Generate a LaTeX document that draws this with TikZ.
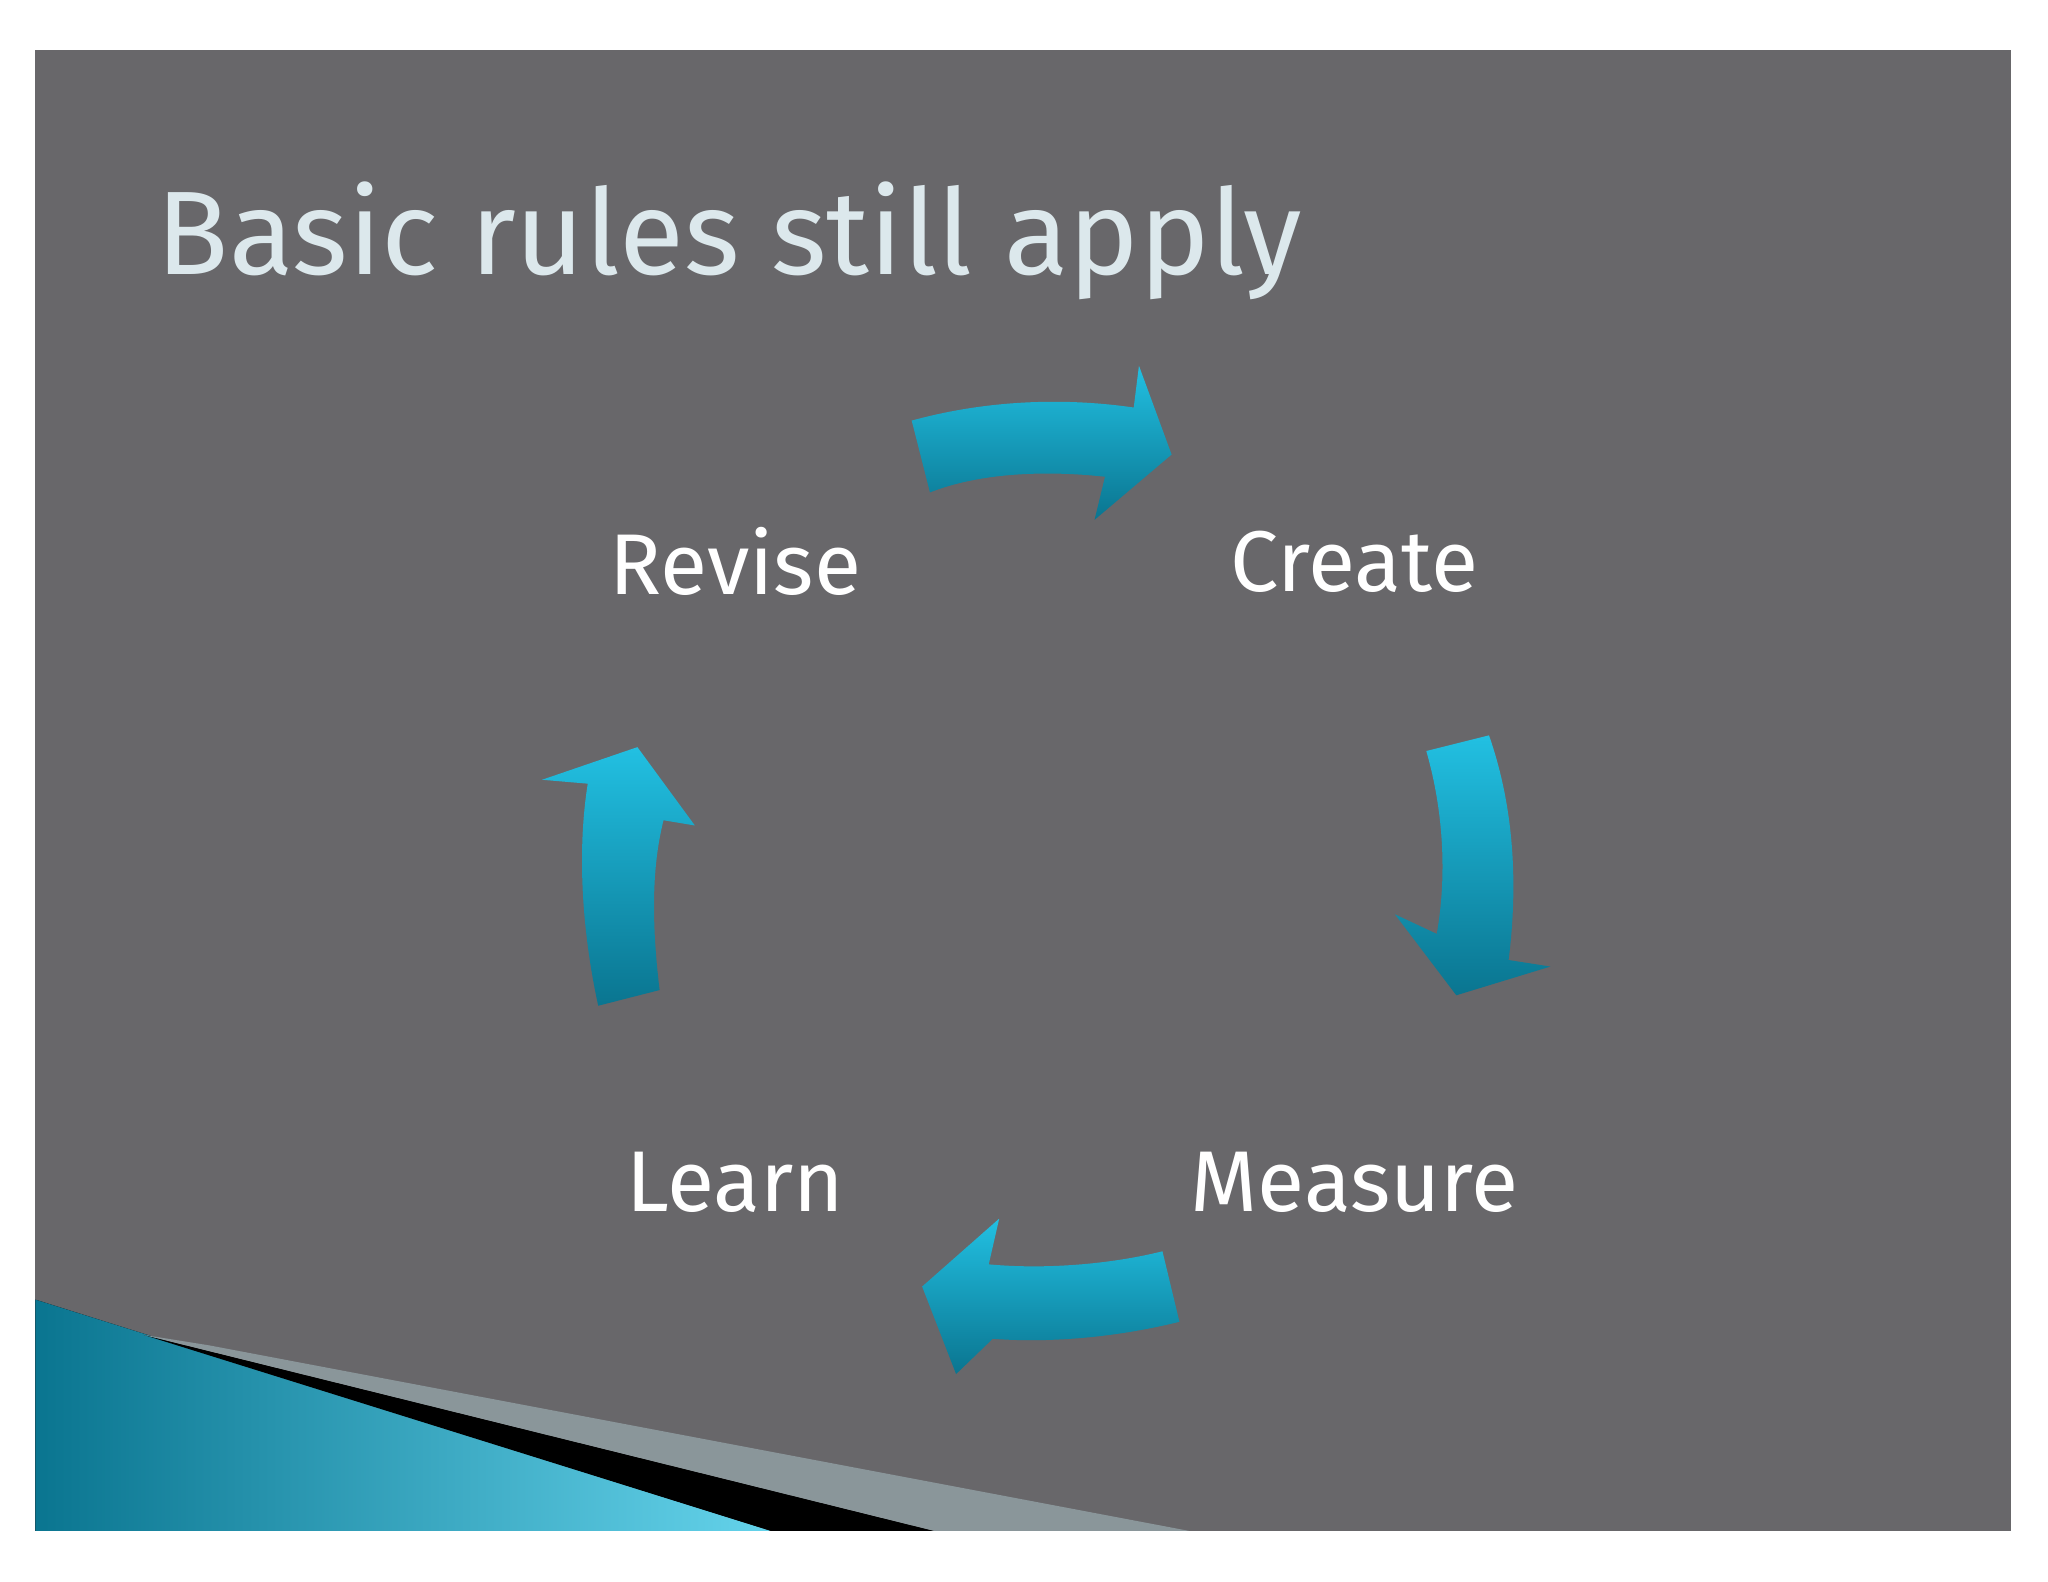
\documentclass[tikz,border=0pt]{standalone}
\usepackage{fontspec}
\setmainfont{Fira Sans}
\begin{document}
\begin{tikzpicture}[x=1pt,y=-1pt,
  arr/.style={top color=arrtop,bottom color=arrbot,draw=none},
  lbl/.style={text=white,font=\fontsize{66}{66}\selectfont,inner sep=0}]
\definecolor{bg}{HTML}{68676A}
\definecolor{arrtop}{HTML}{22C0E2}
\definecolor{arrbot}{HTML}{0A7590}
\definecolor{ttl}{HTML}{DCE8EC}
\definecolor{strp}{HTML}{8A969A}
\useasboundingbox (0,0) rectangle (1568,1211);
\fill[white] (0,0) rectangle (1568,1211);
\fill[bg] (27,38) rectangle (1540,1172);
% bottom-left wedges
\fill[left color=arrbot,right color=arrtop!70] (27,995) -- (590,1172) -- (27,1172) -- cycle;
\fill[black] (110,1022) -- (715,1172) -- (590,1172) -- cycle;
\fill[strp] (110,1022) -- (160,1030) -- (910,1172) -- (715,1172) -- cycle;
% title
\node[text=ttl,font=\fontsize{91}{91}\selectfont,anchor=base west,inner sep=0] (title) at (120,210) {Basic rules still apply};
% labels
\node[lbl] (revise) at (563,430) {Revise};
\node[lbl] (create) at (1037,430) {Create};
\node[lbl] (learn) at (563,905) {Learn};
\node[lbl] (measure) at (1037,905) {Measure};
% arrows
\path[arr] (698,322) .. controls (760,305) and (820,305) .. (868,312) -- (872,280) -- (897,348) -- (838,398) -- (846,365) .. controls (800,360) and (750,362) .. (712,377) -- cycle;
\path[arr] (1092,575) -- (1140,563) .. controls (1160,620) and (1162,680) .. (1155,735) -- (1187,740) -- (1115,762) -- (1068,700) -- (1100,715) .. controls (1108,670) and (1105,620) .. (1092,575) -- cycle;
\path[arr] (890,958) -- (903,1012) .. controls (850,1025) and (800,1028) .. (760,1025) -- (732,1052) -- (706,985) -- (765,933) -- (757,968) .. controls (800,972) and (850,968) .. (890,958) -- cycle;
\path[arr] (458,770) -- (505,758) .. controls (498,700) and (500,660) .. (508,628) -- (532,632) -- (488,572) -- (415,597) -- (450,600) .. controls (442,650) and (445,710) .. (458,770) -- cycle;
\end{tikzpicture}
\end{document}
